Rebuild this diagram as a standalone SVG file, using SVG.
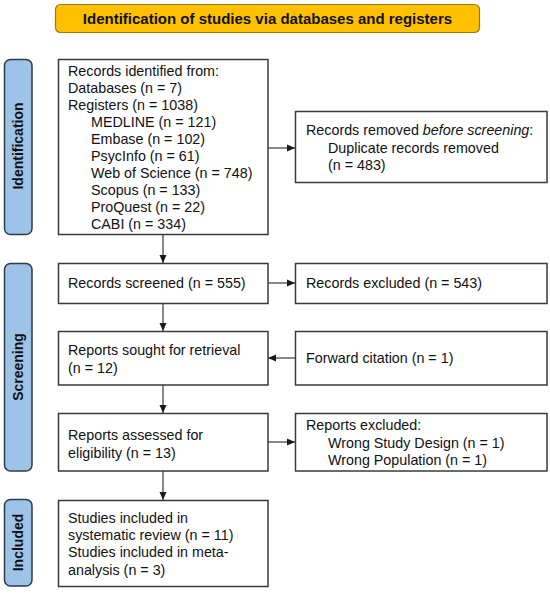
<svg xmlns="http://www.w3.org/2000/svg" width="550" height="594" viewBox="0 0 550 594">
<style>
.box{fill:#fff;stroke:#3a3a3a;stroke-width:1.5}
.side{fill:#9dc3e6;stroke:#2f3a4a;stroke-width:1.5}
.t{font-family:"Liberation Sans",Arial,sans-serif;font-size:14.3px;fill:#111}
.st{font-family:"Liberation Sans",Arial,sans-serif;font-size:14px;font-weight:bold;fill:#111}
.title{font-family:"Liberation Sans",Arial,sans-serif;font-size:15px;font-weight:bold;fill:#111}
.c{fill:none;stroke:#3a3a3a;stroke-width:1.2}
</style>
<defs>
<marker id="ah" markerUnits="userSpaceOnUse" markerWidth="8" markerHeight="8" refX="8" refY="4" orient="auto">
<path d="M0,0.5 L8,4 L0,7.5 z" fill="#1a1a1a"/>
</marker>
</defs>
<g id="title">
<rect x="55.5" y="4.5" width="424" height="28" rx="5" fill="#ffc000" stroke="#9a7a10" stroke-width="1.2"/>
<text class="title" x="267.5" y="24" text-anchor="middle">Identification of studies via databases and registers</text>
</g>
<g id="side-identification">
<rect class="side" x="4.5" y="59.5" width="27.5" height="175" rx="6"/>
<text class="st" transform="translate(23,146) rotate(-90)" text-anchor="middle">Identification</text>
</g>
<g id="side-screening">
<rect class="side" x="4.5" y="263.5" width="27.5" height="207.5" rx="6"/>
<text class="st" transform="translate(23,367) rotate(-90)" text-anchor="middle">Screening</text>
</g>
<g id="side-included">
<rect class="side" x="4.5" y="499.5" width="27.5" height="86.5" rx="6"/>
<text class="st" transform="translate(23,542.5) rotate(-90)" text-anchor="middle">Included</text>
</g>
<g id="connectors">
<line class="c" x1="268" y1="148" x2="295" y2="148" marker-end="url(#ah)"/>
<line class="c" x1="163" y1="234" x2="163" y2="263" marker-end="url(#ah)"/>
<line class="c" x1="268" y1="283" x2="295" y2="283" marker-end="url(#ah)"/>
<line class="c" x1="163" y1="303" x2="163" y2="331" marker-end="url(#ah)"/>
<line class="c" x1="295" y1="358" x2="268" y2="358" marker-end="url(#ah)"/>
<line class="c" x1="163" y1="385" x2="163" y2="413" marker-end="url(#ah)"/>
<line class="c" x1="268" y1="442" x2="295" y2="442" marker-end="url(#ah)"/>
<line class="c" x1="163" y1="471" x2="163" y2="500" marker-end="url(#ah)"/>
</g>
<g id="records-identified">
<rect class="box" x="58.5" y="59.5" width="209.5" height="175"/>
<text class="t" x="68" y="76">Records identified from:</text>
<text class="t" x="68" y="93">Databases (n = 7)</text>
<text class="t" x="68" y="110">Registers (n = 1038)</text>
<text class="t" x="91" y="127">MEDLINE (n = 121)</text>
<text class="t" x="91" y="144">Embase (n = 102)</text>
<text class="t" x="91" y="161">PsycInfo (n = 61)</text>
<text class="t" x="91" y="178">Web of Science (n = 748)</text>
<text class="t" x="91" y="195">Scopus (n = 133)</text>
<text class="t" x="91" y="212">ProQuest (n = 22)</text>
<text class="t" x="91" y="229">CABI (n = 334)</text>
</g>
<g id="records-removed">
<rect class="box" x="295.5" y="111.5" width="251.5" height="71"/>
<text class="t" x="306" y="135">Records removed <tspan font-style="italic">before screening</tspan>:</text>
<text class="t" x="328" y="153">Duplicate records removed</text>
<text class="t" x="328" y="170">(n = 483)</text>
</g>
<g id="records-screened">
<rect class="box" x="58.5" y="263.5" width="209.5" height="40"/>
<text class="t" x="68" y="288">Records screened (n = 555)</text>
</g>
<g id="records-excluded">
<rect class="box" x="295.5" y="263.5" width="251.5" height="40"/>
<text class="t" x="306" y="288">Records excluded (n = 543)</text>
</g>
<g id="reports-sought">
<rect class="box" x="58.5" y="331.5" width="209.5" height="53.5"/>
<text class="t" x="68" y="355">Reports sought for retrieval</text>
<text class="t" x="68" y="373">(n = 12)</text>
</g>
<g id="forward-citation">
<rect class="box" x="295.5" y="331.5" width="251.5" height="53.5"/>
<text class="t" x="306" y="363">Forward citation (n = 1)</text>
</g>
<g id="reports-assessed">
<rect class="box" x="58.5" y="413.5" width="209.5" height="57.5"/>
<text class="t" x="68" y="440">Reports assessed for</text>
<text class="t" x="68" y="458">eligibility (n = 13)</text>
</g>
<g id="reports-excluded">
<rect class="box" x="295.5" y="413.5" width="251.5" height="57.5"/>
<text class="t" x="306" y="430">Reports excluded:</text>
<text class="t" x="328" y="448">Wrong Study Design (n = 1)</text>
<text class="t" x="328" y="465">Wrong Population (n = 1)</text>
</g>
<g id="studies-included">
<rect class="box" x="58.5" y="500.5" width="209.5" height="86"/>
<text class="t" x="68" y="523">Studies included in</text>
<text class="t" x="68" y="540">systematic review (n = 11)</text>
<text class="t" x="68" y="557">Studies included in meta-</text>
<text class="t" x="68" y="575">analysis (n = 3)</text>
</g>
</svg>
